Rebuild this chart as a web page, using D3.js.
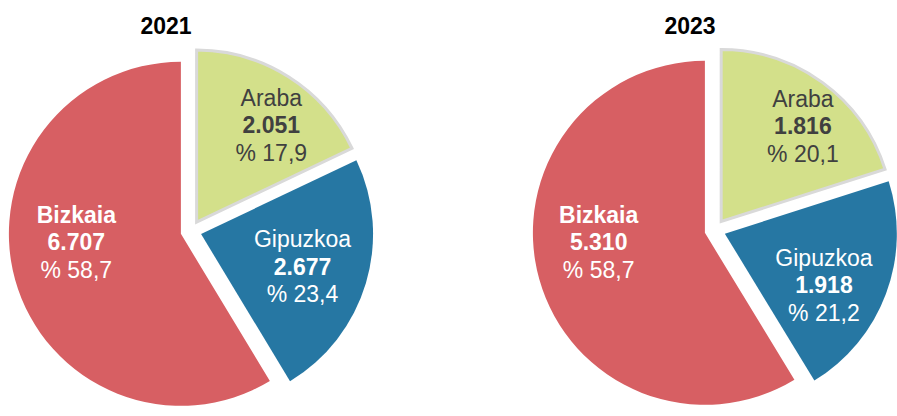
<!DOCTYPE html>
<html>
<head>
<meta charset="utf-8">
<script src="https://cdn.jsdelivr.net/npm/d3@7"></script>
<style>
  html, body { margin: 0; padding: 0; background: #fff; }
  text { font-family: "Liberation Sans", Arial, sans-serif; }
  .title { font-size: 23px; font-weight: bold; fill: #000; }
  .lbl { font-size: 23px; }
</style>
</head>
<body>
<svg id="chart" width="897" height="416"></svg>
<script>
// data
const years = ['2021', '2023'];
const regions = ['Araba', 'Gipuzkoa', 'Bizkaia'];
const values2021 = [2051, 2677, 6707];
const values2023 = [1816, 1918, 5310];
const shares2021 = [17.9, 23.4, 58.7];
const shares2023 = [20.1, 21.2, 58.7];

const valuesByYear = { '2021': values2021, '2023': values2023 };
const sharesByYear = { '2021': shares2021, '2023': shares2023 };

const colors = { Araba: '#d3e08a', Gipuzkoa: '#2677a3', Bizkaia: '#d75f63' };
const textColors = { Araba: '#404040', Gipuzkoa: '#ffffff', Bizkaia: '#ffffff' };
const boldName = { Araba: false, Gipuzkoa: false, Bizkaia: true };

// label placement: [angle in degrees from 12 o'clock, fraction of radius]
const labelLayout = {
  '2021': { Araba: [37.7, 0.71], Gipuzkoa: [108, 0.62], Bizkaia: [265.5, 0.61] },
  '2023': { Araba: [40.6, 0.73], Gipuzkoa: [117.6, 0.65], Bizkaia: [265, 0.62] }
};

const svg = d3.select('#chart');
const radius = 172,
      explode = 10.5,
      lineH = 27.5;

const x = d3.scalePoint().domain(years).range([191, 715]);
const cy = { '2021': 231, '2023': 230 };

const loc = d3.formatLocale({ decimal: ',', thousands: '.', grouping: [3], currency: ['', ''] });
const fmtInt = loc.format(',d');
const fmtPct = loc.format('.1f');

const pie = d3.pie().sort(null).value(d => d.value);
const arc = d3.arc().innerRadius(0).outerRadius(radius);

years.forEach(year => {
  const rows = regions.map((r, i) => ({
    region: r,
    value: valuesByYear[year][i],
    share: sharesByYear[year][i]
  }));

  const g = svg.append('g')
    .attr('transform', `translate(${x(year)},${cy[year]})`);

  svg.append('text')
    .attr('class', 'title')
    .attr('x', x(year) - 25)
    .attr('y', 34)
    .attr('text-anchor', 'middle')
    .text(year);

  const slices = g.selectAll('.slice')
    .data(pie(rows))
    .enter().append('g')
      .attr('class', 'slice')
      .attr('transform', d => {
        const a = (d.startAngle + d.endAngle) / 2;
        return `translate(${explode * Math.sin(a)},${-explode * Math.cos(a)})`;
      });

  slices.append('path')
    .attr('d', arc)
    .attr('fill', d => colors[d.data.region])
    .attr('stroke', d => d.data.region === 'Araba' ? '#d9d9d9' : 'none')
    .attr('stroke-width', 3)
    .attr('stroke-linejoin', 'miter');

  const labels = slices.append('text')
    .attr('class', 'lbl')
    .attr('text-anchor', 'middle')
    .attr('fill', d => textColors[d.data.region])
    .attr('transform', d => {
      const [deg, f] = labelLayout[year][d.data.region];
      const a = deg * Math.PI / 180;
      return `translate(${f * radius * Math.sin(a)},${-f * radius * Math.cos(a)})`;
    });

  labels.append('tspan')
    .attr('x', 0).attr('y', 8 - lineH)
    .attr('font-weight', d => boldName[d.data.region] ? 'bold' : 'normal')
    .text(d => d.data.region);
  labels.append('tspan')
    .attr('x', 0).attr('y', 8)
    .attr('font-weight', 'bold')
    .text(d => fmtInt(d.data.value));
  labels.append('tspan')
    .attr('x', 0).attr('y', 8 + lineH)
    .text(d => '% ' + fmtPct(d.data.share));
});
</script>
</body>
</html>
